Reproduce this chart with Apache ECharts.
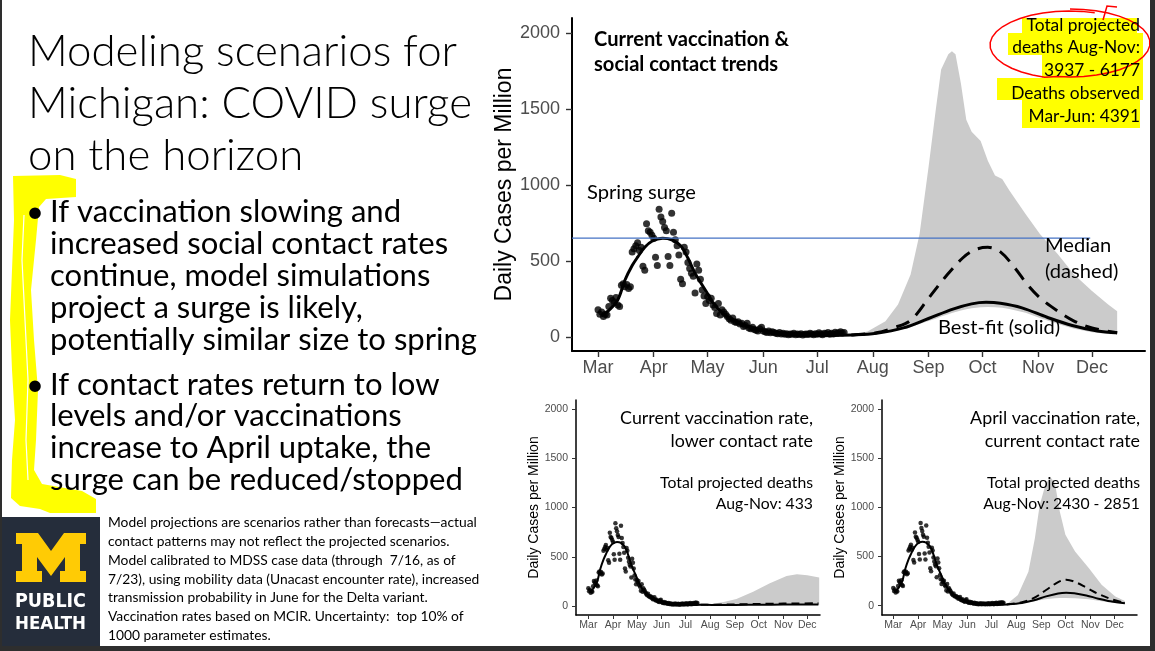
<!DOCTYPE html>
<html><head><meta charset="utf-8">
<script src="https://cdn.jsdelivr.net/npm/echarts@6/dist/echarts.min.js"></script>
<style>html,body{margin:0;padding:0;background:#fff}#c{width:1155px;height:651px}</style>
</head><body><div id="c"></div>
<script>
// ---------- data ----------
const monthTicks = [0,31,61,92,122,153,184,214,245,275];
const monthLabels = ['Mar','Apr','May','Jun','Jul','Aug','Sep','Oct','Nov','Dec'];
const yTicks = [0,500,1000,1500,2000];

// observed daily cases per million (day 0 = Mar 1)
const obsDay = [0,1,2,3,4,5,6,7,8,9,10,11,12,13,14,15,16,17,18,19,20,21,22,23,24,25,26,27,28,29,30,31,32,33,34,35,36,37,38,39,40,41,42,43,44,45,46,47,48,49,50,51,52,53,54,55,56,57,58,59,60,61,62,63,64,65,66,67,68,69,70,71,72,73,74,75,76,77,78,79,80,81,82,83,84,85,86,87,88,89,90,91,92,93,94,95,96,97,98,99,100,101,102,103,104,105,106,107,108,109,110,111,112,113,114,115,116,117,118,119,120,121,122,123,124,125,126,127,128,129,130,131,132,133,134,135,136,137];
const obsCases = [180,150,165,135,150,145,200,255,240,225,260,210,200,340,350,330,345,320,330,560,580,600,620,570,590,465,440,745,700,690,670,650,525,470,840,790,760,720,700,530,470,815,690,640,600,540,380,350,590,560,490,450,420,400,290,480,440,380,310,270,220,265,240,255,210,195,155,220,145,180,165,150,135,120,110,125,100,95,100,85,90,70,75,90,60,55,65,50,45,40,55,65,40,35,30,40,28,35,30,25,22,30,20,25,18,22,15,20,18,25,15,20,17,22,14,18,20,16,25,20,15,22,18,28,20,15,25,22,30,18,25,20,32,24,28,35,26,30];

// best-fit curve through the observed period (shared by all panels)
const fitEarlyDay   = [2,6,11,15,19,22,26,30,36,41,46,50,54,57,61,64,70,75,82,90,100,115,130,141];
const fitEarlyCases = [140,175,245,375,470,525,590,630,650,640,600,520,420,360,285,225,150,112,75,46,25,13,10,13];

// main panel: current vaccination & social contact trends
const mainFitDay    = [155,170,184,198,208,216,224,236,250,264,278,289];
const mainFitCases  = [25,60,122,185,218,228,222,192,130,76,40,28];
const mainMedDay    = [141,155,165,174,184,193,203,210,217,224,232,239,246,256,265,275,289];
const mainMedCases  = [13,28,62,110,255,390,520,575,590,560,455,345,258,170,105,60,28];
const mainBandDay   = [141,150,160,167,174,179,184,188,191,195,197,199,202,205,208,213,217,221,225,229,238,246,256,265,275,284,289];
const mainBandHigh  = [14,37,104,214,412,677,1118,1493,1760,1860,1880,1860,1670,1430,1350,1290,1160,1063,1040,964,809,677,545,412,302,214,170];
const mainBandLow   = [12,18,30,45,65,85,105,120,135,150,158,165,175,183,190,196,198,196,192,185,160,125,85,55,32,20,16];
const springPeakLine = [651];
const springLineDays = [-14.5, 274];

// panel 2: current vaccination rate, lower contact rate
const lowFitDay    = [155,170,200,230,260,289];
const lowFitCases  = [11,11,12,14,15,16];
const lowMedDay    = [141,170,200,230,260,289];
const lowMedCases  = [13,15,19,23,26,28];
const lowBandDay   = [141,153,170,186,207,228,249,262,275,290];
const lowBandHigh  = [12,18,40,71,146,230,304,322,312,290];
const lowBandLow   = [10,10,10,10,10,10,10,10,10,10];

// panel 3: April vaccination rate, current contact rate
const aprFitDay    = [160,175,190,205,215,225,240,255,270,288];
const aprFitCases  = [28,55,95,125,132,128,105,72,45,25];
const aprMedDay    = [141,160,175,190,205,215,225,240,255,270,288];
const aprMedCases  = [13,35,80,160,240,265,245,185,120,70,30];
const aprBandDay   = [141,155,168,176,182,189,195,201,207,214,226,243,259,276,288];
const aprBandHigh  = [15,109,346,684,1022,1225,1310,1245,958,721,552,383,214,95,48];
const aprBandLow   = [12,20,35,45,55,65,72,76,78,78,75,65,45,28,20];

// ---------- helpers ----------
const pairs = (xs, ys) => xs.map((x, i) => [x, ys[i]]);
const mctx = document.createElement('canvas').getContext('2d');
function fitSize(text, weight, family, target) {
  mctx.font = weight + ' 100px ' + family;
  return 100 * target / mctx.measureText(text).width;
}
const CAL = 'Lato, "Open Sans", sans-serif';
const ARIAL = '"Liberation Sans", Arial, sans-serif';

function bandSeries(g, xs, lo, hi) {
  return {
    type: 'custom', xAxisIndex: g, yAxisIndex: g, data: [[0, 0]], silent: true, z: 1,
    renderItem: (params, api) => {
      const pts = [];
      for (let i = 0; i < xs.length; i++) pts.push(api.coord([xs[i], hi[i]]));
      for (let i = xs.length - 1; i >= 0; i--) pts.push(api.coord([xs[i], lo[i]]));
      return { type: 'polygon', shape: { points: pts }, style: { fill: '#cbcbcb' } };
    }
  };
}
function lineSeries(g, data, width, dashed) {
  return {
    type: 'line', xAxisIndex: g, yAxisIndex: g, data, symbol: 'none', smooth: 0.35,
    lineStyle: { color: '#000', width, type: dashed ? dashed : 'solid', cap: 'butt' }, z: 4, silent: true
  };
}
function scatterSeries(g, size) {
  return {
    type: 'scatter', xAxisIndex: g, yAxisIndex: g, data: pairs(obsDay, obsCases),
    symbolSize: size, itemStyle: { color: '#000' }, z: 3, silent: true
  };
}

const panels = [
  { left: 572, top: 18, width: 573, height: 333, xmin: -14.5, xmax: 304.5, ymin: -92, ymax: 2099,
    fs: 18, lw: 2, tick: 6, xm: 8, ym: 12, name: 23, gap: 50 },
  { left: 576, top: 400, width: 244, height: 215, xmin: -15.5, xmax: 291, ymin: -91, ymax: 2091,
    fs: 10.5, lw: 1.5, tick: 4, xm: 5, ym: 8, name: 14, gap: 35 },
  { left: 882, top: 400, width: 255, height: 215, xmin: -14, xmax: 303, ymin: -94, ymax: 2090,
    fs: 10.5, lw: 1.5, tick: 4, xm: 5, ym: 8, name: 14, gap: 35 }
];

const grid = [], xAxis = [], yAxis = [];
panels.forEach((p, g) => {
  grid.push({ left: p.left, top: p.top, width: p.width, height: p.height, outerBoundsMode: 'none' });
  xAxis.push({
    gridIndex: g, type: 'value', min: p.xmin, max: p.xmax,
    axisLine: { show: true, onZero: false, lineStyle: { color: '#000', width: p.lw } },
    axisTick: { show: true, length: p.tick, customValues: monthTicks, lineStyle: { color: '#333', width: p.lw * 0.7 } },
    axisLabel: { customValues: monthTicks, margin: p.xm, color: '#4d4d4d', fontSize: p.fs, fontFamily: ARIAL,
      formatter: v => monthLabels[monthTicks.indexOf(Math.round(v))] || '' },
    splitLine: { show: false }
  });
  yAxis.push({
    gridIndex: g, type: 'value', min: p.ymin, max: p.ymax,
    name: 'Daily Cases per Million', nameLocation: 'middle', nameRotate: 90, nameGap: p.gap,
    nameTextStyle: { color: '#000', fontSize: p.name, fontFamily: ARIAL },
    axisLine: { show: true, onZero: false, lineStyle: { color: '#000', width: p.lw } },
    axisTick: { show: true, length: p.tick, customValues: yTicks, lineStyle: { color: '#333', width: p.lw * 0.7 } },
    axisLabel: { customValues: yTicks, margin: p.ym, color: '#4d4d4d', fontSize: p.fs, fontFamily: ARIAL,
      formatter: v => String(Math.round(v)) },
    splitLine: { show: false }
  });
});

const fitMain = pairs(fitEarlyDay.concat(mainFitDay), fitEarlyCases.concat(mainFitCases));
const fitLow  = pairs(fitEarlyDay.concat(lowFitDay), fitEarlyCases.concat(lowFitCases));
const fitApr  = pairs(fitEarlyDay.concat(aprFitDay), fitEarlyCases.concat(aprFitCases));

const series = [
  bandSeries(0, mainBandDay, mainBandLow, mainBandHigh),
  scatterSeries(0, 7),
  lineSeries(0, fitMain, 3),
  lineSeries(0, pairs(mainMedDay, mainMedCases), 3, [14, 9]),
  { type: 'line', xAxisIndex: 0, yAxisIndex: 0, symbol: 'none', silent: true, z: 6,
    data: springLineDays.map(d => [d, springPeakLine[0]]), lineStyle: { color: '#4472c4', width: 1.2 } },
  bandSeries(1, lowBandDay, lowBandLow, lowBandHigh),
  scatterSeries(1, 4.5),
  lineSeries(1, fitLow, 2),
  lineSeries(1, pairs(lowMedDay, lowMedCases), 2, [8, 5]),
  bandSeries(2, aprBandDay, aprBandLow, aprBandHigh),
  scatterSeries(2, 4.5),
  lineSeries(2, fitApr, 2),
  lineSeries(2, pairs(aprMedDay, aprMedCases), 2, [8, 5])
];

// ---------- slide texts ----------
function T(x, y, text, size, o) {
  o = o || {};
  return { type: 'text', x, y, z: 100, silent: true,
    style: { text, font: (o.weight || 'normal') + ' ' + size.toFixed(2) + 'px ' + (o.family || CAL),
      fill: o.color || '#000', align: o.align || 'left', verticalAlign: 'middle' } };
}
const els = [];
// frame edges
els.push({ type: 'rect', shape: { x: 0, y: 0, width: 2, height: 651 }, style: { fill: '#2e2e2e' }, z: 50 });
els.push({ type: 'rect', shape: { x: 1150, y: 0, width: 5, height: 651 }, style: { fill: '#2e2e2e' }, z: 50 });
els.push({ type: 'rect', shape: { x: 0, y: 646, width: 1155, height: 5 }, style: { fill: '#2e2e2e' }, z: 50 });

// yellow highlighter on the left
els.push({ type: 'polygon', z: 10, shape: { points: [[13,176],[60,175],[76,179],[76,197],[46,199],[39,207],[36,240],[31,290],[34,340],[38,390],[36,440],[34,470],[42,484],[82,491],[96,499],[96,513],[50,513],[40,509],[20,506],[11,498],[12,460],[15,420],[12,370],[10,320],[12,270],[14,220]] },
  style: { fill: '#ffff00' } });
els.push({ type: 'polyline', z: 11, shape: { points: [[24,215],[22,260],[25,320],[28,380],[26,440],[28,480]] }, style: { stroke: '#ffffff', lineWidth: 1.2, fill: null } });

// Title
const titleLines = ['Modeling scenarios for', 'Michigan: COVID surge', 'on the horizon'];
const tSize = (fitSize(titleLines[0], '300', 'Lato', 438) + fitSize(titleLines[1], '300', 'Lato', 435)) / 2;
titleLines.forEach((t, i) => els.push(T(28, 52 + i * 52, t, tSize, { weight: '300', family: 'Lato' })));

// Bullets
const bullet1 = ['If vaccination slowing and', 'increased social contact rates', 'continue, model simulations', 'project a surge is likely,', 'potentially similar size to spring'];
const bullet2 = ['If contact rates return to low', 'levels and/or vaccinations', 'increase to April uptake, the', 'surge can be reduced/stopped'];
const bSize = fitSize(bullet1[4], 'normal', 'Lato', 427);
const b1Y = [212, 244, 276, 308, 340], b2Y = [385, 416, 448, 480];
bullet1.forEach((t, i) => els.push(T(50, b1Y[i], t, bSize)));
bullet2.forEach((t, i) => els.push(T(50, b2Y[i], t, bSize)));
els.push(T(26, b1Y[0], '•', bSize));
els.push(T(26, b2Y[0], '•', bSize));

// Footnote
const foot = ['Model projections are scenarios rather than forecasts\u2014actual', 'contact patterns may not reflect the projected scenarios.', 'Model calibrated to MDSS case data (through  7/16, as of', '7/23), using mobility data (Unacast encounter rate), increased', 'transmission probability in June for the Delta variant.', 'Vaccination rates based on MCIR. Uncertainty:  top 10% of', '1000 parameter estimates.'];
const fSize = fitSize(foot[4], 'normal', CAL, 320);
foot.forEach((t, i) => els.push(T(108, 523 + i * 18.7, t, fSize)));

// Logo
els.push({ type: 'rect', z: 20, shape: { x: 0, y: 517, width: 100, height: 134 }, style: { fill: '#252d3b' } });
els.push({ type: 'polygon', z: 21, shape: { points: [[16,533],[38,533],[51,551],[64,533],[86,533],[86,544],[80,544],[80,571],[86,571],[86,582],[60,582],[60,571],[65,571],[65,557],[51,576],[37,557],[37,571],[42,571],[42,582],[16,582],[16,571],[22,571],[22,544],[16,544]] },
  style: { fill: '#ffcb05' } });
const lSize = fitSize('PUBLIC', 'bold', '"DejaVu Sans Condensed"', 71);
els.push(Object.assign(T(15, 602, 'PUBLIC', lSize, { weight: 'bold', family: '"DejaVu Sans Condensed"', color: '#fff' }), { z: 22 }));
els.push(Object.assign(T(15, 624, 'HEALTH', fitSize('HEALTH', 'bold', '"DejaVu Sans Condensed"', 71), { weight: 'bold', family: '"DejaVu Sans Condensed"', color: '#fff' }), { z: 22 }));

// Main panel annotations
const hSize = fitSize('Current vaccination &', 'bold', CAL, 195);
els.push(T(594, 40, 'Current vaccination &', hSize, { weight: 'bold' }));
els.push(T(594, 65, 'social contact trends', hSize, { weight: 'bold' }));
const aSize = fitSize('Spring surge', 'normal', CAL, 109);
els.push(T(587, 193, 'Spring surge', aSize));
els.push(T(1045, 246, 'Median', aSize));
els.push(T(1045, 272, '(dashed)', aSize));
els.push(T(938, 328, 'Best-fit (solid)', aSize));

// top-right highlighted box
[[1022,18,115,16],[1008,33,135,22],[1042,55,101,23],[997,78,146,22],[1022,100,118,28]].forEach(r =>
  els.push({ type: 'rect', z: 30, shape: { x: r[0], y: r[1], width: r[2], height: r[3] }, style: { fill: '#ffff00' } }));
const rSize = fitSize('deaths Aug-Nov:', 'normal', CAL, 128);
['Total projected', 'deaths Aug-Nov:', '3937 - 6177', 'Deaths observed', 'Mar-Jun: 4391'].forEach((t, i) =>
  els.push(T(1140, [25, 47.5, 70, 93, 116][i], t, rSize, { align: 'right' })));
// red hand-drawn loop
const loop = [];
for (let k = 0; k <= 40; k++) {
  const a = -Math.PI / 2 + k / 40 * 2 * Math.PI * 1.05;
  loop.push([1070 + 80 * Math.cos(a), 43 + 34 * Math.sin(a) + (k > 20 ? 2 : 0)]);
}
els.push({ type: 'polyline', z: 40, shape: { points: loop }, style: { stroke: '#ff0000', lineWidth: 1.5, fill: null } });
els.push({ type: 'polyline', z: 40, shape: { points: [[1103, 20], [1107, 6], [1117, 7]] }, style: { stroke: '#ff0000', lineWidth: 1.5, fill: null } });

// small panel texts
const sSize = fitSize('Current vaccination rate,', 'normal', CAL, 193);
const dSize = fitSize('Total projected deaths', 'normal', CAL, 153);
[['Current vaccination rate,', 'lower contact rate', 'Total projected deaths', 'Aug-Nov: 433'],
 ['April vaccination rate,', 'current contact rate', 'Total projected deaths', 'Aug-Nov: 2430 - 2851']].forEach((lines, j) => {
  const rx = j === 0 ? 813 : 1140;
  lines.forEach((t, i) => els.push(T(rx, [418, 441.5, 483, 503.5][i], t, i < 2 ? sSize : dSize, { align: 'right' })));
});

const chart = echarts.init(document.getElementById('c'), null, { renderer: 'canvas' });
chart.setOption({
  backgroundColor: '#ffffff',
  animation: false,
  grid, xAxis, yAxis, series,
  graphic: { elements: els }
});
</script>
</body></html>
